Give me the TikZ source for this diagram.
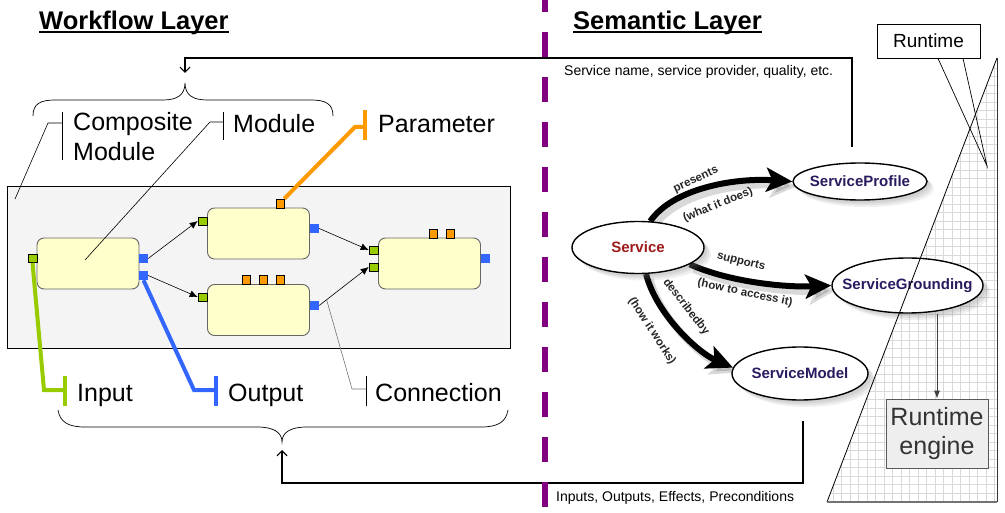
\documentclass[tikz,border=0pt]{standalone}
\usepackage{fontspec}
\setmainfont{Liberation Sans}
\usetikzlibrary{arrows.meta,shapes.geometric,shadows,calc,backgrounds}
\definecolor{modfill}{HTML}{FFFFCC}
\definecolor{compfill}{HTML}{F4F4F4}
\definecolor{ingreen}{HTML}{99CC00}
\definecolor{outblue}{HTML}{3366FF}
\definecolor{parorange}{HTML}{FF9900}
\definecolor{divpurple}{HTML}{800080}
\definecolor{servred}{HTML}{9E1B1B}
\definecolor{servpurple}{HTML}{2B1A60}
\definecolor{gridgray}{HTML}{D9D9D9}
\definecolor{enginefill}{HTML}{EEEEEE}
\begin{document}
\begin{tikzpicture}[x=1pt,y=-1pt,
  module/.style={draw=black!60, fill=modfill, rounded corners=7pt, minimum width=102pt, minimum height=51pt, inner sep=0pt, line width=0.9pt},
  inport/.style={draw=black, fill=ingreen, minimum width=9pt, minimum height=8pt, inner sep=0pt, line width=0.6pt},
  outport/.style={fill=outblue, minimum width=9pt, minimum height=9pt, inner sep=0pt},
  parport/.style={draw=black, fill=parorange, minimum width=8pt, minimum height=9pt, inner sep=0pt, line width=0.6pt},
  conn/.style={-{Latex[length=8pt,width=7pt]}, line width=0.6pt},
  lbl/.style={font=\fontsize{25}{30}\selectfont, anchor=base west, inner sep=0pt},
  leader/.style={line width=0.6pt},
  layertitle/.style={font=\fontsize{25.5}{28}\selectfont\bfseries, anchor=base west, inner sep=0pt},
  smalltxt/.style={font=\fontsize{14}{16}\selectfont, anchor=base west, inner sep=0pt},
  concept/.style={ellipse, draw=black, line width=1.4pt, fill=white, inner sep=0pt, inner xsep=-25pt,
     font=\fontsize{15}{18}\selectfont\bfseries, text=servpurple,
     drop shadow={opacity=.14, shadow xshift=3pt, shadow yshift=-3pt},
     drop shadow={opacity=.14, shadow xshift=5pt, shadow yshift=-5pt},
     drop shadow={opacity=.12, shadow xshift=7pt, shadow yshift=-7pt}},
  rel/.style={line width=6pt, -{Stealth[length=26pt,width=24pt,inset=6pt]}},
  relshadow/.style={line width=7pt, draw=black, opacity=.15, -{Stealth[length=26pt,width=26pt,inset=6pt]}, transform canvas={shift={(4,5)}}},
  rellbl/.style={font=\fontsize{11.5}{13}\selectfont\bfseries, text=black!85, inner sep=0pt},
  openarrow/.style={line width=1.2pt, -{Straight Barb[length=5pt,width=10pt]}},
  boldbar/.style={line width=4pt},
]
\useasboundingbox (0,0) rectangle (1005,513);

% ---------- titles ----------
\node[layertitle] (wl) at (39,29.5) {Workflow Layer};
\draw[line width=1.8pt] ($(wl.base west)+(0,2.5)$) -- ($(wl.base east)+(0,2.5)$);
\node[layertitle] (sl) at (573,29.5) {Semantic Layer};
\draw[line width=1.8pt] ($(sl.base west)+(0,2.5)$) -- ($(sl.base east)+(0,2.5)$);

% ---------- workflow ----------
\node[draw=black, fill=compfill, line width=0.9pt, minimum width=503pt, minimum height=162pt, inner sep=0pt] (comp) at (258.5,267) {};
\node[module] (m1) at (88,263.5) {};
\node[module] (m2) at (258.5,233.5) {};
\node[module] (m3) at (258.5,310) {};
\node[module] (m4) at (429.5,263.5) {};

\node[inport] (p1in) at (32.5,258.5) {};
\node[outport] (p1o1) at (143.5,258.5) {};
\node[outport] (p1o2) at (143.5,275.5) {};
\node[inport] (p2in) at (202.5,221) {};
\node[outport] (p2out) at (314.5,228.5) {};
\node[parport] (p2par) at (280,203.5) {};
\node[inport] (p3in) at (202.5,297) {};
\node[outport] (p3out) at (314.5,305.5) {};
\node[parport] (p3par1) at (246,280) {};
\node[parport] (p3par2) at (263,280) {};
\node[parport] (p3par3) at (280,280) {};
\node[inport] (p4in1) at (373.5,250) {};
\node[inport] (p4in2) at (373.5,267) {};
\node[outport] (p4out) at (485.5,258.5) {};
\node[parport] (p4par1) at (433,233.5) {};
\node[parport] (p4par2) at (450,233.5) {};

\draw[conn] (p1o1.east) -- (p2in.west);
\draw[conn] (p1o2.east) -- (p3in.west);
\draw[conn] (p2out.east) -- (p4in1.west);
\draw[conn] (p3out.east) -- (p4in2.west);

% ---------- labels ----------
\node[lbl, anchor=north west, align=left] (lcomp) at (73,112.5) {Composite\\Module};
\node[lbl] (lmod) at (233,133) {Module};
\node[lbl] (lpar) at (378,133) {Parameter};
\node[lbl] (lin) at (77,401) {Input};
\node[lbl] (lout) at (228,401) {Output};
\node[lbl] (lconn) at (375,401) {Connection};

\coordinate (compEnd) at (15,199);
\coordinate (modEnd) at (85,260);
\coordinate (connEnd) at ($(p3out.east)!0.15!(p4in2.west)$);

\draw[leader] (62,112) -- (62,160);
\draw[leader] (62,123) -- (48,123) -- (compEnd);
\draw[leader] (223,112) -- (223,140);
\draw[leader] (223,122) -- (210,122) -- (modEnd);
\draw[parorange, boldbar] (365,110) -- (365,140);
\draw[parorange, boldbar] (p2par.north east) -- (355,127) -- (365,127);
\draw[ingreen, boldbar] (65,376) -- (65,406);
\draw[ingreen, boldbar] (p1in.south) -- (44,390) -- (65,390);
\draw[outblue, boldbar] (216,376) -- (216,406);
\draw[outblue, boldbar] (p1o2.south) -- (194,390) -- (216,390);
\draw[leader] (366,376) -- (366,406);
\draw[leader, black!55] (connEnd) -- (352,389) -- (366,389);

% ---------- braces ----------
\draw[line width=0.7pt] (33,116) .. controls (33,104) and (40,100) .. (55,100) -- (163,100)
  .. controls (177,100) and (185,95) .. (185,83) .. controls (185,95) and (193,100) .. (207,100)
  -- (311,100) .. controls (326,100) and (333,104) .. (333,116);
\draw[line width=0.7pt] (58,410) .. controls (60,422) and (68,427) .. (85,427) -- (257,427)
  .. controls (273,427) and (282,432) .. (282,442) .. controls (282,432) and (291,427) .. (307,427)
  -- (481,427) .. controls (498,427) and (506,422) .. (508,410);

% ---------- semantic concepts ----------
\node[concept, minimum width=132pt, minimum height=52pt, text=servred] (serv) at (638,247.5) {Service};
\node[concept, minimum width=134pt, minimum height=37pt] (prof) at (860,181.5) {ServiceProfile};
\node[concept, minimum width=151pt, minimum height=55pt] (sg) at (907.5,285.5) {ServiceGrounding};
\node[concept, minimum width=136pt, minimum height=53pt] (sm) at (800,373.5) {ServiceModel};

\coordinate (tA) at (997,58);
\coordinate (tB) at (997,502);
\coordinate (tC) at (827,502);

\begin{pgfonlayer}{background}
  \fill[white] (tA) -- (tB) -- (tC) -- cycle;
  \begin{scope}
    \clip (tA) -- (tB) -- (tC) -- cycle;
    \draw[gridgray, line width=0.5pt, step=8.5pt] (820,510) grid (1000,50);
  \end{scope}
  \draw[relshadow] (serv.65) .. controls +(22,-32) and +(-60,-4) .. (prof.west);
  \draw[relshadow] (serv.-18) .. controls +(40,18) and +(-45,2) .. (sg.west);
  \draw[relshadow] (serv.-73) .. controls +(10,40) and +(-35,-15) .. (sm.175);
  \draw[rel] (serv.65) .. controls +(22,-32) and +(-60,-4) .. (prof.west);
  \draw[rel] (serv.-18) .. controls +(40,18) and +(-45,2) .. (sg.west);
  \draw[rel] (serv.-73) .. controls +(10,40) and +(-35,-15) .. (sm.175);
\end{pgfonlayer}

\node[rellbl, rotate=25] (lp1) at (696,180) {presents};
\node[rellbl, rotate=22] (lp2) at (718,205) {(what it does)};
\node[rellbl, rotate=-14] (ls1) at (741,262) {supports};
\node[rellbl, rotate=-12] (ls2) at (745,293) {(how to access it)};
\node[rellbl, rotate=-52] (ld1) at (686,307) {describedby};
\node[rellbl, rotate=-57] (ld2) at (652,331) {(how it works)};

% triangle edges on top
\draw[line width=0.8pt] (tA) -- (tC);
\draw[line width=1pt, black!80] (tA) -- (tB);
\draw[line width=2pt, black!55] (tC) -- (tB);

% ---------- runtime ----------
\node[draw=black, fill=white, line width=0.8pt, minimum width=103pt, minimum height=34pt, inner sep=0pt, font=\fontsize{19}{22}\selectfont] (rt) at (928.5,41) {Runtime};
\coordinate (rtTip) at (987,166);
\draw[line width=0.7pt] ($(rt.south)+(9.5,0)$) -- (rtTip) -- ($(rt.south)+(34.5,0)$);

\node[draw=black!65, fill=enginefill, line width=0.8pt, minimum width=102pt, minimum height=69pt, inner sep=0pt, align=center, font=\fontsize{25}{29}\selectfont, text=black!80] (eng) at (937,433.5) {Runtime\\engine};
\draw[black!75, line width=0.8pt, -{Latex[length=8pt,width=6pt]}] (eng.north |- sg.south) -- (eng.north);

% ---------- feedback arrows ----------
\coordinate (profUp) at (852,147);
\coordinate (topTip) at (185,73);
\draw[openarrow] (profUp) |- ($(topTip)+(0,-15)$) -- (topTip);
\coordinate (modelDown) at (803,421);
\coordinate (botTip) at (282,450);
\draw[openarrow] (modelDown) |- ($(botTip)+(0,33)$) -- (botTip);

\node[smalltxt] (profTxt) at (564,76) {Service name, service provider, quality, etc.};
\node[smalltxt] (modTxt) at (556,501) {Inputs, Outputs, Effects, Preconditions};

% ---------- divider ----------
\draw[divpurple, line width=6pt, dash pattern=on 25pt off 20pt] (545,-13) -- (545,530);
\end{tikzpicture}
\end{document}
